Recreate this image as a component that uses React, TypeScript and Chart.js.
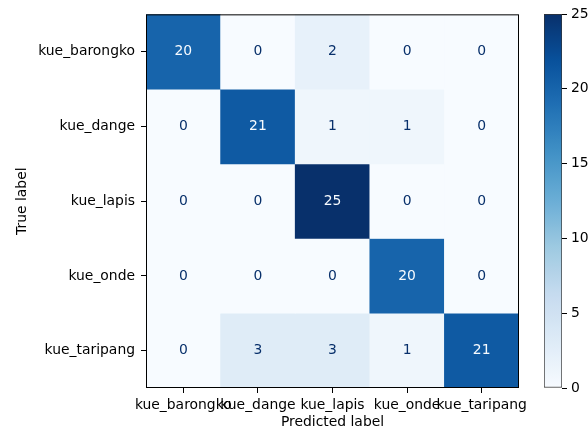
import React, { useEffect, useRef } from "react";
import { Chart, registerables } from "chart.js";

Chart.register(...registerables);

const trueLabels = ["kue_barongko", "kue_dange", "kue_lapis", "kue_onde", "kue_taripang"];
const predLabels = ["kue_barongko", "kue_dange", "kue_lapis", "kue_onde", "kue_taripang"];
const rowBarongko = [20, 0, 2, 0, 0];
const rowDange = [0, 21, 1, 1, 0];
const rowLapis = [0, 0, 25, 0, 0];
const rowOnde = [0, 0, 0, 20, 0];
const rowTaripang = [0, 3, 3, 1, 21];
const matrixRows = [rowBarongko, rowDange, rowLapis, rowOnde, rowTaripang];
const colorbarMin = 0;
const colorbarMax = 25;
const colorbarTicks = [0, 5, 10, 15, 20, 25];

const BLUES = ["#f7fbff", "#deebf7", "#c6dbef", "#9ecae1", "#6baed6", "#4292c6", "#2171b5", "#08519c", "#08306b"];

function hexToRgb(h: string) {
  const n = parseInt(h.slice(1), 16);
  return [(n >> 16) & 255, (n >> 8) & 255, n & 255];
}

function blues(t: number) {
  const c = Math.max(0, Math.min(1, t)) * (BLUES.length - 1);
  const i = Math.min(BLUES.length - 2, Math.floor(c));
  const f = c - i;
  const a = hexToRgb(BLUES[i]);
  const b = hexToRgb(BLUES[i + 1]);
  const r = a.map((v, k) => Math.round(v + (b[k] - v) * f));
  return `rgb(${r[0]},${r[1]},${r[2]})`;
}

const FONT = { family: "'DejaVu Sans', sans-serif", size: 13.9 };

export default function App() {
  const mainRef = useRef<HTMLCanvasElement>(null);
  const cbRef = useRef<HTMLCanvasElement>(null);

  useEffect(() => {
    const vmax = Math.max(...matrixRows.flat());
    const vmin = Math.min(...matrixRows.flat());
    const thresh = (vmax + vmin) / 2;

    const datasets = matrixRows.map((row, r) => ({
      label: trueLabels[r],
      data: row.map(() => [r - 0.5, r + 0.5]),
      backgroundColor: row.map((v) => blues((v - colorbarMin) / (colorbarMax - colorbarMin))),
      borderWidth: 0,
      barPercentage: 1,
      categoryPercentage: 1,
      grouped: false,
    }));

    const textPlugin = {
      id: "cellText",
      afterDatasetsDraw(chart: any) {
        const ctx = chart.ctx;
        const xs = chart.scales.x;
        const ys = chart.scales.y;
        ctx.save();
        ctx.font = `${FONT.size}px ${FONT.family}`;
        ctx.textAlign = "center";
        ctx.textBaseline = "middle";
        matrixRows.forEach((row, r) => {
          row.forEach((v, c) => {
            ctx.fillStyle = v > thresh ? BLUES[0] : BLUES[8];
            ctx.fillText(String(v), xs.getPixelForValue(c), ys.getPixelForValue(r));
          });
        });
        const a = chart.chartArea;
        ctx.strokeStyle = "#000";
        ctx.lineWidth = 1;
        ctx.strokeRect(a.left + 0.5, a.top + 0.5, a.right - a.left - 1, a.bottom - a.top - 1);
        ctx.restore();
      },
    };

    const main = new Chart(mainRef.current!, {
      type: "bar",
      data: { labels: predLabels, datasets: datasets as any },
      options: {
        animation: false,
        responsive: false,
        layout: { padding: { left: 0, top: 14, right: 69, bottom: 0 } },
        plugins: { legend: { display: false }, tooltip: { enabled: false } },
        scales: {
          x: {
            type: "category",
            offset: true,
            grid: { offset: false, drawOnChartArea: false, drawTicks: true, tickLength: 5, color: "#000" },
            border: { display: false },
            ticks: { autoSkip: false, maxRotation: 0, minRotation: 0, padding: 4, color: "#000", font: FONT },
            title: { display: true, text: "Predicted label", color: "#000", font: FONT, padding: { top: 0, bottom: 1 } },
            afterFit: (s: any) => { s.height = 44; },
          },
          y: {
            type: "linear",
            min: -0.5,
            max: 4.5,
            reverse: true,
            grid: { drawOnChartArea: false, drawTicks: true, tickLength: 5, color: "#000" },
            border: { display: false },
            afterBuildTicks: (s: any) => { s.ticks = trueLabels.map((_, i) => ({ value: i })); },
            ticks: { color: "#000", font: FONT, padding: 6, callback: (v: any) => trueLabels[v] ?? "" },
            title: { display: true, text: "True label", color: "#000", font: FONT, padding: { top: 14, bottom: 0 } },
            afterFit: (s: any) => { s.width = 146; },
          },
        },
      },
      plugins: [textPlugin],
    });

    const cb = new Chart(cbRef.current!, {
      type: "bar",
      data: {
        labels: ["cb"],
        datasets: [
          {
            data: [[colorbarMin, colorbarMax]],
            backgroundColor: (ctx: any) => {
              const area = ctx.chart.chartArea;
              if (!area) return BLUES[4];
              const g = ctx.chart.ctx.createLinearGradient(0, area.bottom, 0, area.top);
              for (let i = 0; i <= 50; i++) g.addColorStop(i / 50, blues(i / 50));
              return g;
            },
            borderColor: "#333",
            borderWidth: 1,
            borderSkipped: false,
            barPercentage: 1,
            categoryPercentage: 1,
          } as any,
        ],
      },
      options: {
        animation: false,
        responsive: false,
        layout: { padding: { left: 544, top: 14, right: 0, bottom: 44 } },
        plugins: { legend: { display: false }, tooltip: { enabled: false } },
        scales: {
          x: { display: false },
          y: {
            type: "linear",
            position: "right",
            min: colorbarMin,
            max: colorbarMax,
            grid: { drawOnChartArea: false, drawTicks: true, tickLength: 5, color: "#000" },
            border: { display: false },
            afterBuildTicks: (s: any) => { s.ticks = colorbarTicks.map((v) => ({ value: v })); },
            ticks: { color: "#000", font: FONT, padding: 4 },
            afterFit: (s: any) => { s.width = 26; },
          },
        },
      },
    });

    return () => {
      main.destroy();
      cb.destroy();
    };
  }, []);

  return (
    <div style={{ position: "fixed", left: 0, top: 0, width: 588, height: 432, background: "#fff" }}>
      <canvas ref={mainRef} width={588} height={432} style={{ position: "absolute", left: 0, top: 0 }} />
      <canvas ref={cbRef} width={588} height={432} style={{ position: "absolute", left: 0, top: 0 }} />
    </div>
  );
}
